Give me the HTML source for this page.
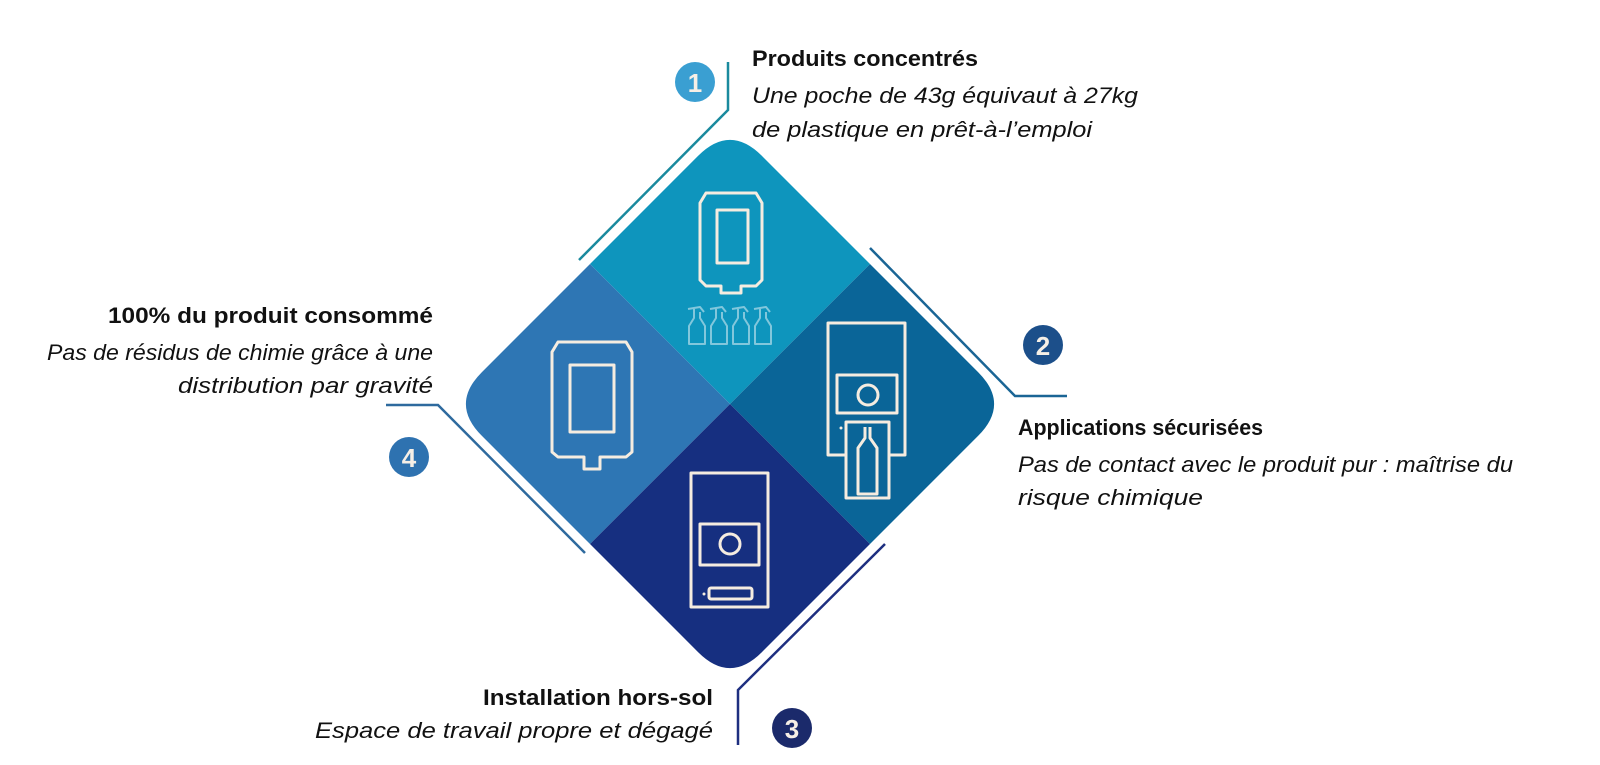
<!DOCTYPE html>
<html><head><meta charset="utf-8">
<style>
html,body{margin:0;padding:0;background:#fff;}
svg{display:block;}
text{font-family:"Liberation Sans",sans-serif;font-size:22px;fill:#111;}
.b{font-weight:bold;}
.i{font-style:italic;}
.n{font-weight:bold;font-size:26px;fill:#f6efe6;}
</style></head><body>
<svg width="1600" height="765" viewBox="0 0 1600 765" xmlns="http://www.w3.org/2000/svg">
<defs>
<clipPath id="dia">
<path d="M761.8,155.8 L978.2,372.2 Q1010,404 978.2,435.8 L761.8,652.2 Q730,684 698.2,652.2 L481.8,435.8 Q450,404 481.8,372.2 L698.2,155.8 Q730,124 761.8,155.8 Z"/>
</clipPath>
</defs>
<g clip-path="url(#dia)">
<polygon points="730,404 430,104 1030,104" fill="#0e95bd"/>
<polygon points="730,404 430,104 430,704" fill="#2e76b4"/>
<polygon points="730,404 1030,104 1030,704" fill="#0a6598"/>
<polygon points="730,404 430,704 1030,704" fill="#162f80"/>
</g>

<polyline points="728,62 728,110 579,260" fill="none" stroke="#1a8a9e" stroke-width="2.5"/>
<polyline points="870,248 1015,396 1067,396" fill="none" stroke="#1a6595" stroke-width="2.5"/>
<polyline points="885,544 738,690 738,745" fill="none" stroke="#1e2f80" stroke-width="2.5"/>
<polyline points="386,405 438,405 585,553" fill="none" stroke="#2e6a9e" stroke-width="2.5"/>

<circle cx="695" cy="82" r="20" fill="#3a9fd2"/><text class="n" x="695" y="92" text-anchor="middle">1</text>
<circle cx="1043" cy="345" r="20" fill="#1c4f8a"/><text class="n" x="1043" y="355" text-anchor="middle">2</text>
<circle cx="792" cy="728" r="20" fill="#1b2a6b"/><text class="n" x="792" y="738" text-anchor="middle">3</text>
<circle cx="409" cy="457" r="20" fill="#2e72b0"/><text class="n" x="409" y="467" text-anchor="middle">4</text>

<g fill="none" stroke="#f5ece0" stroke-width="3" stroke-linejoin="round">
 <path d="M706,193 L756,193 L762,203 L762,280 L756,286 L741,286 L741,293 L721,293 L721,286 L706,286 L700,280 L700,203 Z"/>
 <rect x="717" y="210" width="31" height="53"/>
 <path d="M558,342 L626,342 L632,352 L632,452 L626,457 L600,457 L600,469 L584,469 L584,457 L558,457 L552,452 L552,352 Z"/>
 <rect x="570" y="365" width="44" height="67"/>
 <rect x="691" y="473" width="77" height="134"/>
 <rect x="700" y="524" width="59" height="41"/>
 <circle cx="730" cy="544" r="10"/>
 <rect x="709" y="588" width="43" height="11" rx="2"/>
 <rect x="828" y="323" width="77" height="132"/>
 <rect x="837" y="375" width="60" height="38"/>
 <circle cx="868" cy="395" r="10"/>
 <rect x="846" y="422" width="43" height="76" fill="#0a6598"/>
 <path d="M865,427 L865,438 L858,448 L858,494 L877,494 L877,448 L870,438 L870,427"/>
</g>
<circle cx="704" cy="594" r="1.5" fill="#f5ece0"/>
<circle cx="841" cy="428" r="1.5" fill="#f5ece0"/>
<g fill="none" stroke="#8fcde0" stroke-width="2" stroke-linejoin="round" opacity="0.9">
 <path id="bt" d="M688,309 L700,307 L704,312 M694,309 L694,318 L689,326 L689,344 L705,344 L705,326 L700,318 L700,312"/>
 <use href="#bt" x="22"/><use href="#bt" x="44"/><use href="#bt" x="66"/>
</g>

<text class="b" x="752" y="66" textLength="226" lengthAdjust="spacingAndGlyphs">Produits concentrés</text>
<text class="i" x="752" y="103" textLength="386" lengthAdjust="spacingAndGlyphs">Une poche de 43g équivaut à 27kg</text>
<text class="i" x="752" y="137" textLength="340" lengthAdjust="spacingAndGlyphs">de plastique en prêt-à-l’emploi</text>
<text class="b" x="1018" y="435" textLength="245" lengthAdjust="spacingAndGlyphs">Applications sécurisées</text>
<text class="i" x="1018" y="472" textLength="495" lengthAdjust="spacingAndGlyphs">Pas de contact avec le produit pur : maîtrise du</text>
<text class="i" x="1018" y="505" textLength="185" lengthAdjust="spacingAndGlyphs">risque chimique</text>
<text class="b" x="483" y="705" textLength="230" lengthAdjust="spacingAndGlyphs">Installation hors-sol</text>
<text class="i" x="315" y="738" textLength="398" lengthAdjust="spacingAndGlyphs">Espace de travail propre et dégagé</text>
<text class="b" x="108" y="323" textLength="325" lengthAdjust="spacingAndGlyphs">100% du produit consommé</text>
<text class="i" x="47" y="360" textLength="386" lengthAdjust="spacingAndGlyphs">Pas de résidus de chimie grâce à une</text>
<text class="i" x="178" y="393" textLength="255" lengthAdjust="spacingAndGlyphs">distribution par gravité</text>
</svg>
</body></html>
